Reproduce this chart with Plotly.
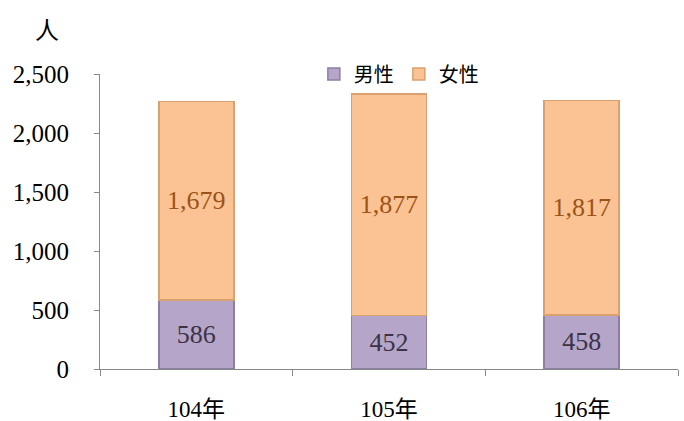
import plotly.graph_objects as go

categories = ["104年", "105年", "106年"]
male = [586, 452, 458]
female = [1679, 1877, 1817]
male_labels = ["586", "452", "458"]
female_labels = ["1,679", "1,877", "1,817"]

serif = "Liberation Serif, Times New Roman, Noto Sans CJK TC, serif"

fig = go.Figure()
fig.add_trace(go.Bar(
    x=categories, y=male, name="男性",
    marker=dict(color="#b4a5c9", line=dict(color="#8d7fa3", width=1.5)),
    text=male_labels, textposition="inside", insidetextanchor="middle",
    textfont=dict(family=serif, size=26, color="#3b3346"),
    width=0.39,
))
fig.add_trace(go.Bar(
    x=categories, y=female, name="女性",
    marker=dict(color="#fbc393", line=dict(color="#d9a070", width=1.5)),
    text=female_labels, textposition="inside", insidetextanchor="middle",
    textfont=dict(family=serif, size=26, color="#9c5318"),
    width=0.39,
))

fig.update_layout(
    barmode="stack",
    width=684, height=421,
    margin=dict(l=100, r=6, t=74, b=52, autoexpand=False),
    paper_bgcolor="white", plot_bgcolor="white",
    font=dict(family=serif, size=20, color="black"),
    showlegend=True,
    legend=dict(
        orientation="h", x=0.37, xanchor="left", y=1.0, yanchor="middle",
        font=dict(family="Noto Sans CJK TC, serif", size=20, color="black"),
        bgcolor="rgba(0,0,0,0)", itemwidth=30, traceorder="normal",
    ),
    uniformtext=dict(minsize=10, mode="show"),
    annotations=[dict(
        text="人", xref="paper", yref="paper", showarrow=False,
        x=(47 - 100) / 578, y=(369 - 28) / 295, xanchor="center", yanchor="middle",
        font=dict(family="Noto Sans CJK TC, serif", size=24, color="black"),
    )],
)

fig.update_yaxes(
    range=[0, 2500], tickvals=[0, 500, 1000, 1500, 2000, 2500],
    ticktext=["0", "500", "1,000", "1,500", "2,000", "2,500"],
    showgrid=False, zeroline=False, automargin=False,
    showline=True, linecolor="#888888", linewidth=1,
    ticks="outside", ticklen=5, tickcolor="#888888",
    tickfont=dict(family=serif, size=25, color="black"),
    ticklabelstandoff=20,
)
fig.update_xaxes(
    showgrid=False, showline=True, linecolor="#888888", linewidth=1, automargin=False,
    ticks="outside", ticklen=6, tickcolor="#888888", tickson="boundaries",
    tickfont=dict(family="Liberation Serif, Noto Sans CJK TC, serif", size=23, color="black"),
    ticklabelstandoff=19,
)

fig.write_html(
    "out.html",
    config={"displayModeBar": False},
    post_script="document.body.style.margin='0px';document.body.style.overflow='hidden';",
)
